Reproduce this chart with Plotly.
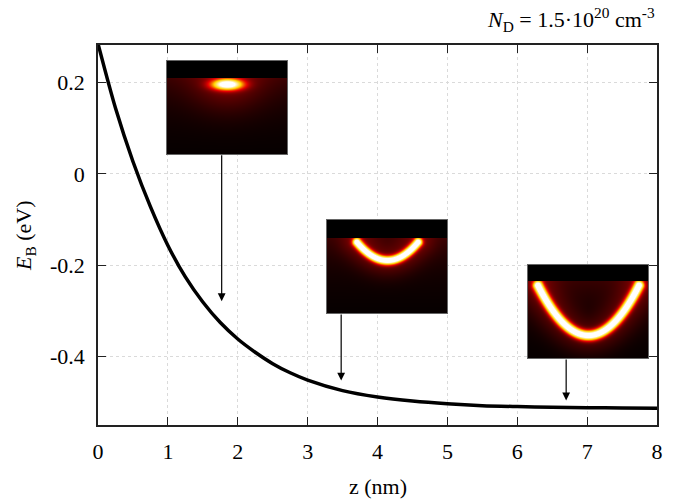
import numpy as np
import plotly.graph_objects as go

# ---- data ----
z_nm = [0, 0.25, 0.5, 0.75, 1.0, 1.25, 1.5, 1.75, 2.0, 2.25, 2.5, 2.75, 3.0,
        3.5, 4.0, 4.5, 5.0, 5.5, 6.0, 6.5, 7.0, 7.5, 8.0]
e_b = [0.285, 0.144, 0.027, -0.072, -0.157, -0.226, -0.281, -0.326, -0.362,
       -0.391, -0.416, -0.436, -0.452, -0.475, -0.489, -0.498, -0.504, -0.508,
       -0.510, -0.5115, -0.5125, -0.513, -0.5135]

x_ticks = [0, 1, 2, 3, 4, 5, 6, 7, 8]
y_ticks = [-0.4, -0.2, 0, 0.2]
y_tick_labels = ["-0.4", "-0.2", "0", "0.2"]

# arrows: z position, tail (inset bottom) and tip energies
arrow_z = [1.77, 3.48, 6.70]
arrow_tail_e = [0.044, -0.305, -0.4035]
arrow_tip_e = [-0.279, -0.453, -0.4965]

title_text = "<i>N</i><sub>D</sub> = 1.5·10<sup>20</sup> cm<sup>-3</sup>"

# ---- inset illustrations (wavefunction density maps) ----
NX, NY = 120, 93
inset_kind = ["blob", "arc", "arc"]
inset_cx = [60, 60, 60]
inset_cy = [23, 40, 70]
inset_halfw = [14, 30.6, 50.5]
inset_depth = [5, 18.3, 50]
inset_sigma = [0, 4.0, 4.6]
inset_band = [17, 18, 16]
inset_domx = [[0.1234, 0.3381], [0.4097, 0.6243], [0.7692, 0.9839]]
inset_domy = [[0.7132, 0.9579], [0.2947, 0.5395], [0.1763, 0.4211]]

hot = [[0, "rgb(0,0,0)"], [0.3, "rgb(230,0,0)"], [0.6, "rgb(255,210,0)"],
       [1, "rgb(255,255,255)"]]


def inset_image(kind, cx, cy, hw, depth, sigma, band):
    X, Y = np.meshgrid(np.arange(NX), np.arange(NY))
    below = Y >= band
    base = np.where(below, 0.07 * np.exp(-(Y - band) / 35.0), 0.0)
    if kind == "blob":
        core = 1.1 * np.exp(-((X - cx) / hw) ** 2 - ((Y - cy) / depth) ** 2)
        glow = 0.12 * np.exp(-((X - cx) / 35.0) ** 2 - ((Y - band) / 30.0) ** 2)
    else:
        t = np.linspace(-1, 1, 301)
        px = cx + hw * t
        py = cy - depth * t ** 2
        d = np.sqrt((X[..., None] - px) ** 2 + (Y[..., None] - py) ** 2).min(axis=2)
        core = 1.1 * np.exp(-(d / sigma) ** 2)
        glow = 0.10 * np.exp(-(d / (4 * sigma)) ** 2)
    val = np.clip(core + glow + base, 0, 1)
    val[~below] = 0.0
    return val


fig = go.Figure()
fig.add_trace(go.Scatter(x=z_nm, y=e_b, mode="lines",
                         line=dict(color="black", width=3.5, shape="spline", smoothing=0.8),
                         showlegend=False, hoverinfo="skip"))

for i in range(3):
    img = inset_image(inset_kind[i], inset_cx[i], inset_cy[i], inset_halfw[i],
                      inset_depth[i], inset_sigma[i], inset_band[i])
    k = i + 2
    fig.add_trace(go.Heatmap(z=img, x=np.arange(NX), y=np.arange(NY), colorscale=hot,
                             zmin=0, zmax=1, showscale=False, hoverinfo="skip",
                             xaxis=f"x{k}", yaxis=f"y{k}"))
    ax = dict(domain=inset_domx[i], anchor=f"y{k}", range=[-0.5, NX - 0.5],
              showgrid=False, zeroline=False, showticklabels=False, ticks="",
              showline=True, mirror=True, linecolor="#666", linewidth=1.2)
    ay = dict(domain=inset_domy[i], anchor=f"x{k}", range=[NY - 0.5, -0.5],
              showgrid=False, zeroline=False, showticklabels=False, ticks="",
              showline=True, mirror=True, linecolor="#666", linewidth=1.2)
    fig.layout[f"xaxis{k}"] = ax
    fig.layout[f"yaxis{k}"] = ay

font_family = "Liberation Serif"

annotations = []
for zz, te, he in zip(arrow_z, arrow_tail_e, arrow_tip_e):
    annotations.append(dict(x=zz, y=he, ax=zz, ay=te, xref="x", yref="y",
                            axref="x", ayref="y", text="", showarrow=True,
                            arrowhead=2, arrowsize=1.3, arrowwidth=1.2,
                            arrowcolor="black"))
annotations.append(dict(x=1.0, y=1.066, xref="paper", yref="paper", text=title_text,
                        showarrow=False, xanchor="right", yanchor="middle",
                        font=dict(family=font_family, size=22, color="black")))
annotations.append(dict(x=-0.1306, y=0.5, xref="paper", yref="paper",
                        text="<i>E</i><sub>B</sub> (eV)", textangle=-90,
                        showarrow=False, xanchor="center", yanchor="middle",
                        font=dict(family=font_family, size=22, color="black")))
annotations.append(dict(x=0.5, y=-0.163, xref="paper", yref="paper",
                        text="z (nm)", showarrow=False, xanchor="center",
                        yanchor="middle",
                        font=dict(family=font_family, size=22, color="black")))

fig.update_layout(
    width=690, height=500,
    margin=dict(l=90, r=41, t=37, b=83),
    paper_bgcolor="white", plot_bgcolor="white",
    font=dict(family=font_family, size=22, color="black"),
    xaxis=dict(domain=[0, 1], range=[0, 8], tickvals=x_ticks, ticks="inside",
               ticklen=8, tickcolor="#222", mirror="ticks", showline=True,
               linecolor="#222", linewidth=1.5, showgrid=True, gridcolor="#dadada",
               griddash="dot", zeroline=False, ticklabelstandoff=6,
               tickfont=dict(family=font_family, size=22, color="black")),
    yaxis=dict(domain=[0, 1], range=[-0.5504, 0.2822], tickvals=y_ticks,
               ticktext=y_tick_labels, ticks="inside", ticklen=8, tickcolor="#222",
               mirror="ticks", showline=True, linecolor="#222", linewidth=1.5,
               showgrid=True, gridcolor="#dadada", griddash="dot", zeroline=False,
               ticklabelstandoff=7,
               tickfont=dict(family=font_family, size=22, color="black")),
    annotations=annotations,
    showlegend=False,
)

fig.write_html("out.html")
